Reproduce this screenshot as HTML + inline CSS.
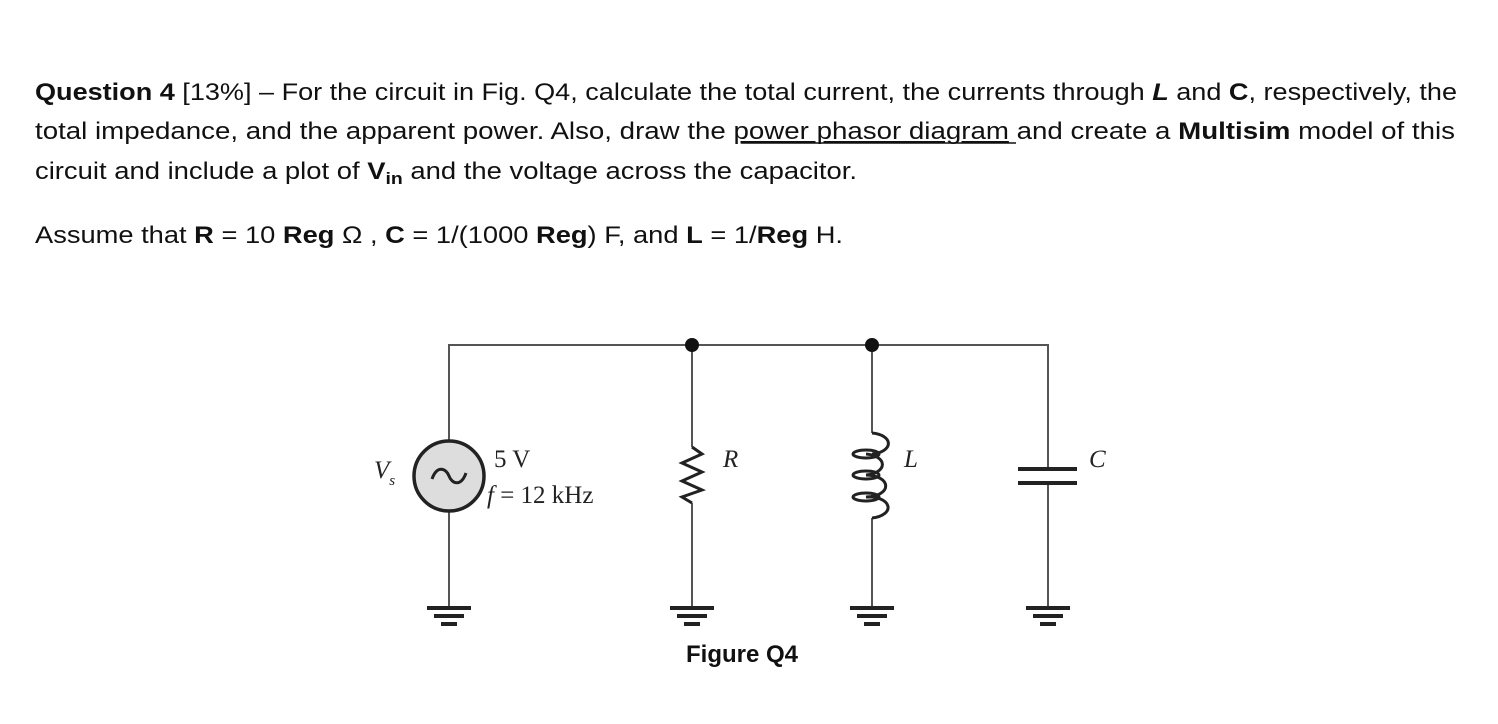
<!DOCTYPE html>
<html><head><meta charset="utf-8"><style>
html,body{margin:0;padding:0;background:#fff;}
svg{display:block;}
.t{font-family:"Liberation Sans",sans-serif;font-size:24px;fill:#111;}
.s{font-family:"Liberation Serif",serif;font-size:25px;fill:#222;}
</style></head><body>
<svg width="1498" height="724" viewBox="0 0 1498 724" xmlns="http://www.w3.org/2000/svg">
<text class="t" x="35" y="100" textLength="1422" lengthAdjust="spacingAndGlyphs"><tspan font-weight="bold">Question 4</tspan> [13%] – For the circuit in Fig. Q4, calculate the total current, the currents through <tspan font-weight="bold" font-style="italic">L</tspan> and <tspan font-weight="bold">C</tspan>, respectively, the</text>
<text class="t" x="35" y="139" textLength="1420" lengthAdjust="spacingAndGlyphs">total impedance, and the apparent power.  Also, draw the <tspan text-decoration="underline">power phasor diagram</tspan> and create a <tspan font-weight="bold">Multisim</tspan> model of this</text>
<line x1="741" y1="143" x2="1016" y2="143" stroke="#111" stroke-width="1.5"/>
<text class="t" x="35" y="179" textLength="822" lengthAdjust="spacingAndGlyphs">circuit and include a plot of <tspan font-weight="bold">V</tspan><tspan font-weight="bold" font-size="17" dy="5">in</tspan><tspan dy="-5"> and the voltage across the capacitor.</tspan></text>
<text class="t" x="35" y="243" textLength="808" lengthAdjust="spacingAndGlyphs">Assume that <tspan font-weight="bold">R</tspan> = 10 <tspan font-weight="bold">Reg</tspan> Ω ,    <tspan font-weight="bold">C</tspan> = 1/(1000 <tspan font-weight="bold">Reg</tspan>) F,    and <tspan font-weight="bold">L</tspan> = 1/<tspan font-weight="bold">Reg</tspan> H.</text>

<g stroke="#555" stroke-width="2" fill="none">
<polyline points="449,440 449,345 1048,345 1048,469"/>
<line x1="449" y1="512" x2="449" y2="608"/>
<line x1="692" y1="345" x2="692" y2="447"/>
<line x1="692" y1="503" x2="692" y2="608"/>
<line x1="872" y1="345" x2="872" y2="433"/>
<line x1="872" y1="518" x2="872" y2="608"/>
<line x1="1048" y1="483" x2="1048" y2="608"/>
</g>
<circle cx="449" cy="476" r="35" fill="#ddd" stroke="#222" stroke-width="3.5"/>
<path d="M432,479 C437,465 446,468 449,476 C452,484 461,487 466,473" fill="none" stroke="#222" stroke-width="3"/>
<polyline points="692,447 702,454 682,463 702,472 682,481 702,490 682,497 692,503" fill="none" stroke="#222" stroke-width="3"/>
<g fill="none" stroke="#222" stroke-width="3">
<path d="M872,433 A 19 10.6 0 0 1 872,454 M866,454 A 19 10.6 0 0 1 866,475 M866,475 A 19 10.6 0 0 1 866,497 M866,497 A 19 10.6 0 0 1 872,518"/>
<ellipse cx="866" cy="454" rx="13" ry="4"/>
<ellipse cx="866" cy="475" rx="13" ry="4"/>
<ellipse cx="866" cy="497" rx="13" ry="4"/>
</g>
<g stroke="#222" stroke-width="4">
<line x1="1018" y1="469" x2="1077" y2="469"/>
<line x1="1018" y1="483" x2="1077" y2="483"/>
</g>
<circle cx="692" cy="345" r="7" fill="#111"/>
<circle cx="872" cy="345" r="7" fill="#111"/>
<g fill="#222">
<rect x="427" y="606" width="44" height="4"/><rect x="434" y="614" width="30" height="4"/><rect x="441" y="622" width="16" height="4"/>
<rect x="670" y="606" width="44" height="4"/><rect x="677" y="614" width="30" height="4"/><rect x="684" y="622" width="16" height="4"/>
<rect x="850" y="606" width="44" height="4"/><rect x="857" y="614" width="30" height="4"/><rect x="864" y="622" width="16" height="4"/>
<rect x="1026" y="606" width="44" height="4"/><rect x="1033" y="614" width="30" height="4"/><rect x="1040" y="622" width="16" height="4"/>
</g>
<text class="s" x="374" y="478" font-style="italic">V<tspan font-size="15" dy="7">s</tspan></text>
<text class="s" x="494" y="467">5 V</text>
<text class="s" x="487" y="503"><tspan font-style="italic">f</tspan> = 12 kHz</text>
<text class="s" x="723" y="467" font-style="italic">R</text>
<text class="s" x="904" y="467" font-style="italic">L</text>
<text class="s" x="1089" y="467" font-style="italic">C</text>
<text class="t" x="686" y="662" font-weight="bold">Figure Q4</text>
</svg>
</body></html>
